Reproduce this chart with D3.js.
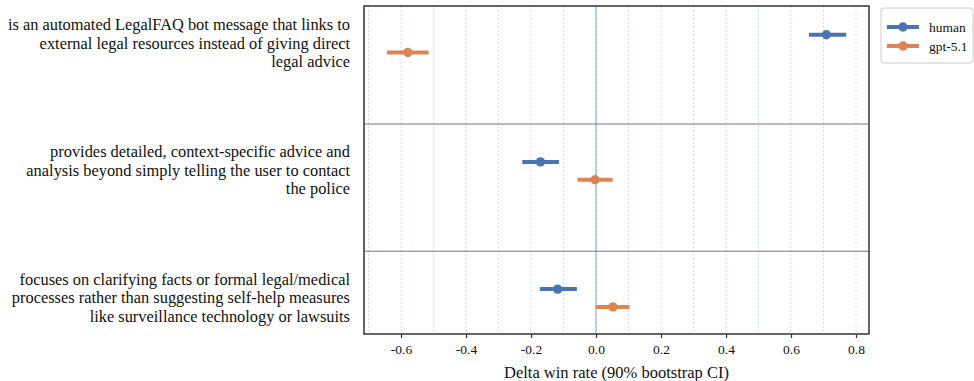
<!DOCTYPE html>
<html>
<head>
<meta charset="utf-8">
<script src="https://cdn.jsdelivr.net/npm/d3@7"></script>
<style>
  body { margin: 0; background: #fff; }
  text { font-family: 'Liberation Serif', serif; }
</style>
</head>
<body>
<svg id="chart" width="974" height="381"></svg>
<script>
// behaviours compared (top to bottom)
const categories = [
  ['is an automated LegalFAQ bot message that links to', 'external legal resources instead of giving direct', 'legal advice'],
  ['provides detailed, context-specific advice and', 'analysis beyond simply telling the user to contact', 'the police'],
  ['focuses on clarifying facts or formal legal/medical', 'processes rather than suggesting self-help measures', 'like surveillance technology or lawsuits']
]
const series = ['human', 'gpt-5.1']
const colors = ['#4c72b0', '#dd8452']

// delta win rate, one entry per category
const humanMean = [0.709, -0.171, -0.118]
const humanLow = [0.655, -0.227, -0.173]
const humanHigh = [0.770, -0.114, -0.059]
const gptMean = [-0.579, -0.003, 0.052]
const gptLow = [-0.643, -0.057, -0.001]
const gptHigh = [-0.515, 0.051, 0.103]

const xTicks = [-0.6, -0.4, -0.2, 0.0, 0.2, 0.4, 0.6, 0.8]
const xLabel = 'Delta win rate (90% bootstrap CI)'

const FONT = "'Liberation Serif', serif"
const MARGINS = { top: 6, right: 105, bottom: 47, left: 364 }

const svg = d3.select('#chart')
const width = +svg.attr('width') - MARGINS.left - MARGINS.right
const height = +svg.attr('height') - MARGINS.top - MARGINS.bottom

const x = d3.scaleLinear().domain([-0.714, 0.84]).range([0, width])
const y = d3.scaleLinear().domain([-0.296, 2.283]).range([0, height])
const offset = 0.07

const g = svg.append('g')
  .attr('transform', 'translate(' + MARGINS.left + ',' + MARGINS.top + ')')

// dotted grid every 0.1
g.append('g')
  .selectAll('line')
  .data(d3.range(-7, 9).map(d => d / 10))
  .enter()
  .append('line')
  .attr('x1', d => x(d)).attr('x2', d => x(d))
  .attr('y1', 0).attr('y2', height)
  .attr('stroke', '#b9d3ea')
  .attr('stroke-width', 1)
  .attr('stroke-dasharray', '1.5,2.5')

// zero line
g.append('line')
  .attr('x1', x(0)).attr('x2', x(0))
  .attr('y1', 0).attr('y2', height)
  .attr('stroke', '#87b6dd')
  .attr('stroke-width', 1.2)

// separators between groups
g.append('g')
  .selectAll('line')
  .data([0.632, 1.632])
  .enter()
  .append('line')
  .attr('x1', 0).attr('x2', width)
  .attr('y1', d => y(d)).attr('y2', d => y(d))
  .attr('stroke', '#777')
  .attr('stroke-width', 1)

const rows = []
categories.forEach((c, i) => {
  rows.push({ s: 0, i: i, mean: humanMean[i], low: humanLow[i], high: humanHigh[i] })
  rows.push({ s: 1, i: i, mean: gptMean[i], low: gptLow[i], high: gptHigh[i] })
})
const rowY = d => y(d.i + (d.s === 0 ? -offset : offset))

g.append('g')
  .selectAll('line')
  .data(rows)
  .enter()
  .append('line')
  .attr('x1', d => x(d.low)).attr('x2', d => x(d.high))
  .attr('y1', rowY).attr('y2', rowY)
  .attr('stroke', d => colors[d.s])
  .attr('stroke-width', 4)

g.append('g')
  .selectAll('circle')
  .data(rows)
  .enter()
  .append('circle')
  .attr('cx', d => x(d.mean))
  .attr('cy', rowY)
  .attr('r', 4.7)
  .attr('fill', d => colors[d.s])

// frame
g.append('rect')
  .attr('width', width).attr('height', height)
  .attr('fill', 'none')
  .attr('stroke', '#333')
  .attr('stroke-width', 1.5)

// x axis
const xAxis = g.append('g')
  .attr('transform', 'translate(0,' + height + ')')
  .call(d3.axisBottom(x).tickValues(xTicks).tickFormat(d3.format('.1f')).tickSize(4).tickPadding(6))
xAxis.select('.domain').remove()
xAxis.attr('font-family', FONT)
xAxis.selectAll('line').attr('stroke', '#333').attr('stroke-width', 1.2)
xAxis.selectAll('text')
  .attr('fill', '#111')
  .style('font-size', '13.5px')
  .text(d => d3.format('.1f')(d).replace('−', '-'))

svg.append('text')
  .attr('x', MARGINS.left + width / 2)
  .attr('y', 378)
  .attr('text-anchor', 'middle')
  .attr('fill', '#111')
  .style('font-size', '16.5px')
  .text(xLabel)

// category labels, one text element per line
const labelLines = []
categories.forEach((lines, i) => {
  lines.forEach((ln, k) => labelLines.push({ i: i, k: k, text: ln }))
})
svg.append('g')
  .selectAll('text')
  .data(labelLines)
  .enter()
  .append('text')
  .attr('text-anchor', 'end')
  .attr('x', MARGINS.left - 14)
  .attr('y', d => MARGINS.top + y(d.i) + (d.k - 1) * 18.5 + 5)
  .attr('fill', '#111')
  .style('font-size', '16.4px')
  .text(d => d.text)

// legend
const legend = svg.append('g').attr('transform', 'translate(881,8)')
legend.append('rect')
  .attr('width', 92).attr('height', 55).attr('rx', 3)
  .attr('fill', '#fff').attr('stroke', '#ccc')
series.forEach((s, k) => {
  const row = legend.append('g').attr('transform', 'translate(0,' + (19 + k * 19) + ')')
  row.append('line')
    .attr('x1', 6).attr('x2', 38)
    .attr('stroke', colors[k]).attr('stroke-width', 4)
  row.append('circle').attr('cx', 22).attr('r', 4.7).attr('fill', colors[k])
  row.append('text')
    .attr('x', 48).attr('y', 4.5)
    .attr('fill', '#111')
    .style('font-size', '13.5px')
    .text(s)
})
</script>
</body>
</html>
